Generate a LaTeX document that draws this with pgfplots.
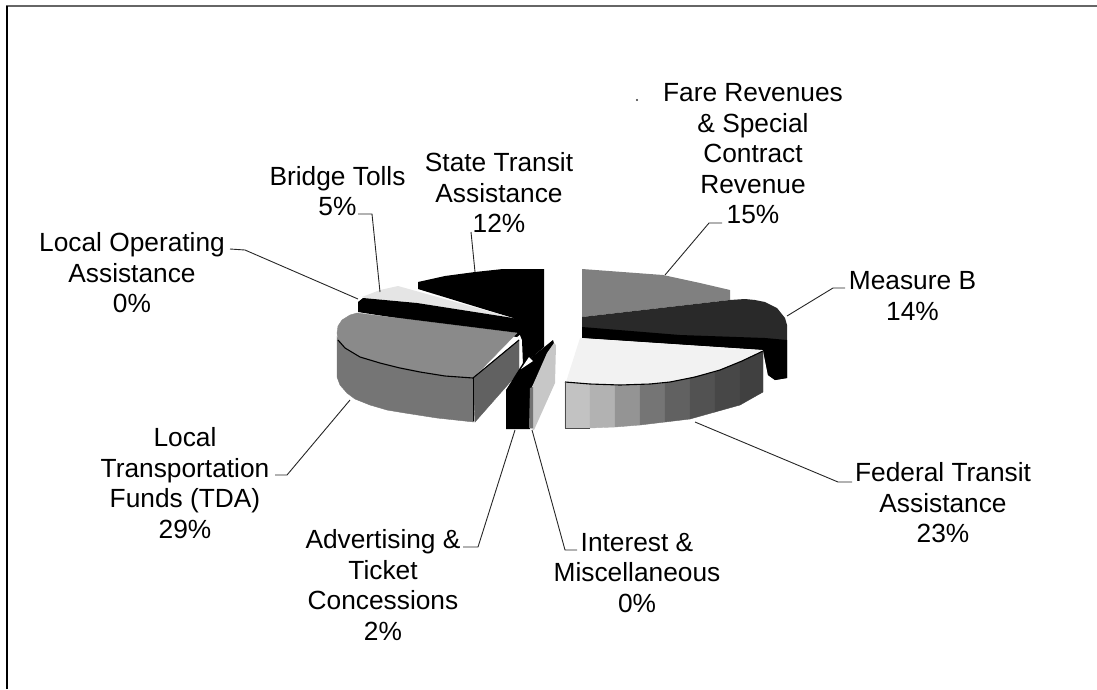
\documentclass[border=0pt]{standalone}
\usepackage{pgfplots}
\usepackage{fontspec}
\setmainfont{Liberation Sans}
\pgfplotsset{compat=1.18}
\begin{document}
\begin{tikzpicture}[x=1pt,y=1pt,
 lab/.style={font=\fontsize{26.3}{30.5}\selectfont,align=center,anchor=center,inner sep=0pt},
 seg/.style={draw=none},
 strip/.style={fill=black!#1,draw=black!#1,line width=0.4pt},
 lead/.style={draw=black!85,line width=0.9pt}]
\path[use as bounding box] (0,0) rectangle (1097pt,689pt);
\begin{axis}[at={(0,0)},anchor=south west,scale only axis,width=1097pt,height=689pt,
 xmin=0,xmax=1097,ymin=0,ymax=689,y dir=reverse,hide axis,clip=false,no markers,
 every axis plot/.append style={forget plot}]
% frame: top and left edges only
\addplot[draw=black!60,line width=1.2pt] coordinates {(7,689)(7,6)(1097,6)};
\addplot[draw=black,line width=1.2pt] coordinates {(7,689)(7,6)};
% State Transit
\addplot[fill=black,seg] coordinates {(418,282)(445,276)(475,272)(503,269)(544,269)(544,347)(523,365)(522,340)(513,318)(418,289)} --cycle;
% Bridge tolls
\addplot[fill=black!10,seg] coordinates {(362,297)(380,290)(398,286)(513,318)(417,303)(365,298)} --cycle;
% Local operating
\addplot[fill=black,seg] coordinates {(358,302)(363,298)(417,303)(513,318)(522,333)(517,337)(358,312)} --cycle;
% TDA side
\addplot[strip=54] coordinates {(337,337)(337,377)(340,385)(347,393)(355,399)(370,405)(387,410)(405,413)(437,418)(474,422)(474,378)(445,376)(420,372)(400,368)(380,363)(360,357)(345,348)(338,340)} --cycle;
\addplot[strip=62] coordinates {(473,378)(519,340)(519,372)(475,422)} --cycle;
% TDA top
\addplot[strip=46] coordinates {(337,333)(338,326)(342,320)(350,315)(357,313)(517,333)(473,378)(445,376)(420,372)(400,368)(380,363)(360,357)(345,348)(338,340)} --cycle;
\addplot[draw=black,line width=1.1pt] coordinates {(338,340)(345,348)(360,357)(380,363)(400,368)(420,372)(445,376)(473,378)(519,340)};
\addplot[draw=black,line width=0.8pt] coordinates {(473,378)(473,421)};
% Advertising
\addplot[fill=black,seg] coordinates {(506,390)(523,363)(532,357)(553,340)(555,347)(532,387)(530,429)(506,429)} --cycle;
\addplot[fill=white,seg] coordinates {(521,369)(529,357)(533,361)} --cycle;
% Interest
\addplot[fill=black!22,seg] coordinates {(532,387)(547,353)(554,343)(556,345)(555,383)(534,430)(530,428)} --cycle;
\addplot[fill=black!55,seg] coordinates {(530,388)(533,387)(533,428)(529,428)} --cycle;
% Fare
\addplot[fill=black!50,seg] coordinates {(582,269)(663,275)(700,283)(730,290)(730,300)(582,317)} --cycle;
% Measure B
\addplot[fill=black!84,seg] coordinates {(582,317)(730,300)(745,299)(755,300)(765,302)(777,308)(785,318)(787,325)(787,378)(775,380)(768,375)(763,350)(582,338)} --cycle;
\addplot[fill=black,seg] coordinates {(582,327)(680,335)(765,338)(787,340)(787,378)(775,380)(768,375)(763,350)(582,338)} --cycle;
% Federal top
\addplot[fill=black!5,seg] coordinates {(580,338)(762,350)(742,361)(720,370)(695,377)(670,382)(650,384)(620,385)(590,384)(566,382)} --cycle;
% Federal side, lightest at the left
\addplot[strip=24] coordinates {(565,382)(590,384)(590,428)(565,428)} --cycle;
\addplot[strip=30] coordinates {(590,384)(615,385)(615,427)(590,428)} --cycle;
\addplot[strip=42] coordinates {(615,385)(640,385)(640,425)(615,427)} --cycle;
\addplot[strip=54] coordinates {(640,385)(665,383)(665,422)(640,425)} --cycle;
\addplot[strip=62] coordinates {(665,383)(690,378)(690,419)(665,422)} --cycle;
\addplot[strip=68] coordinates {(690,378)(715,372)(715,412)(690,419)} --cycle;
\addplot[strip=72] coordinates {(715,372)(740,362)(740,405)(715,412)} --cycle;
\addplot[strip=75] coordinates {(740,362)(763,351)(763,392)(740,405)} --cycle;
\addplot[draw=black,line width=1.1pt] coordinates {(565,382)(590,384)(620,385)(650,384)(670,382)(695,377)(720,370)(742,361)(763,351)};
\addplot[draw=black!70,line width=0.8pt] coordinates {(565,382)(565,428)(590,428)};
% leaders
\addplot[lead] coordinates {(665,275)(709,223)(722,223)};
\addplot[lead] coordinates {(787,316)(833,288)(845,288)};
\addplot[lead] coordinates {(695,422)(838,482)(852,482)};
\addplot[lead] coordinates {(532,430)(565,550)(577,550)};
\addplot[lead] coordinates {(515,430)(478,547)(463,547)};
\addplot[lead] coordinates {(350,400)(287,475)(275,475)};
\addplot[lead] coordinates {(358,299)(245,250)(230,249)};
\addplot[lead] coordinates {(380,292)(372,214)(358,214)};
\addplot[lead] coordinates {(475,272)(471,232)};
\addplot[only marks,mark=*,mark size=0.8pt,black!70] coordinates {(637,100)};
% labels
\node[lab] at (axis cs:753,154) {Fare Revenues\\\& Special\\Contract\\Revenue\\15\%};
\node[lab] at (axis cs:912.5,296) {Measure B\\14\%};
\node[lab] at (axis cs:943,503) {Federal Transit\\Assistance\\23\%};
\node[lab] at (axis cs:637,573) {Interest \&\\Miscellaneous\\0\%};
\node[lab] at (axis cs:383,585) {Advertising \&\\Ticket\\Concessions\\2\%};
\node[lab] at (axis cs:185,483) {Local\\Transportation\\Funds (TDA)\\29\%};
\node[lab] at (axis cs:132,273) {Local Operating\\Assistance\\0\%};
\node[lab] at (axis cs:337.5,191) {Bridge Tolls\\5\%};
\node[lab] at (axis cs:499,193) {State Transit\\Assistance\\12\%};
\end{axis}
\end{tikzpicture}
\end{document}
